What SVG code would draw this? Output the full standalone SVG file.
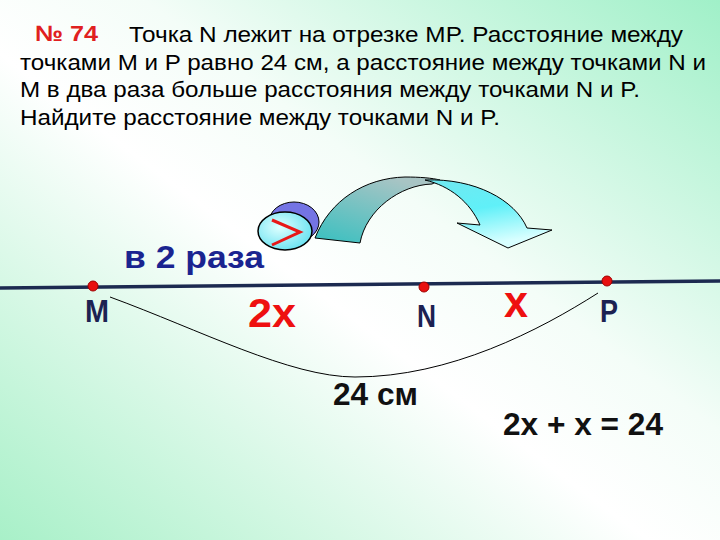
<svg xmlns="http://www.w3.org/2000/svg" width="720" height="540" viewBox="0 0 720 540">
<defs>
<linearGradient id="bg" x1="0" y1="1" x2="1" y2="0">
<stop offset="0" stop-color="#a8f0c8"/>
<stop offset="0.45" stop-color="#ffffff"/>
<stop offset="0.6" stop-color="#f4fdf8"/>
<stop offset="1" stop-color="#a0f0c8"/>
</linearGradient>
<linearGradient id="back" x1="0" y1="1" x2="0.6" y2="0">
<stop offset="0" stop-color="#38c0c0"/>
<stop offset="1" stop-color="#a8c4c4"/>
</linearGradient>
<linearGradient id="front" x1="0" y1="0" x2="0.3" y2="1">
<stop offset="0" stop-color="#70e8f0"/>
<stop offset="0.5" stop-color="#60f0f8"/>
<stop offset="1" stop-color="#d8ffff"/>
</linearGradient>
<radialGradient id="circ" cx="0.4" cy="0.4" r="0.7">
<stop offset="0" stop-color="#e0ffff"/>
<stop offset="1" stop-color="#60e0f0"/>
</radialGradient>
<style>
.t{font-family:"Liberation Sans",Arial,sans-serif;font-size:22px;fill:#000}
.lbl{font-family:"Liberation Sans",Arial,sans-serif;font-weight:bold;font-size:31px;fill:#1c2252}
.red{font-family:"Liberation Sans",Arial,sans-serif;font-weight:bold;fill:#ee1010}
.blk{font-family:"Liberation Sans",Arial,sans-serif;font-weight:bold;font-size:31px;fill:#111}
.dot{fill:#e81010;stroke:#a00000;stroke-width:1}
</style>
</defs>
<rect width="720" height="540" fill="url(#bg)"/>
<text x="35" y="41" class="red" textLength="63" lengthAdjust="spacingAndGlyphs" style="font-size:22px;fill:#e02020">№ 74</text>
<text x="129" y="42" class="t" textLength="554" lengthAdjust="spacingAndGlyphs">Точка N лежит на отрезке MP. Расстояние между</text>
<text x="20" y="70" class="t" textLength="686" lengthAdjust="spacingAndGlyphs">точками M и P равно 24 см, а расстояние между точками N и</text>
<text x="20" y="97" class="t" textLength="620" lengthAdjust="spacingAndGlyphs">M в два раза больше расстояния между точками N и P.</text>
<text x="20" y="125" class="t" textLength="480" lengthAdjust="spacingAndGlyphs">Найдите расстояние между точками N и P.</text>
<g id="arrow">
<path d="M315,238 C330,200 365,178 405,177 C420,177 432,178 440,180 L432,184 C400,185 366,210 360,243 Z" fill="url(#back)" stroke="#000" stroke-width="1"/>
<path d="M425,180 C475,178 515,200 527,228 L552,230 L508,248 L457,223 L480,225 C470,202 450,186 425,180 Z" fill="url(#front)" stroke="#000" stroke-width="1"/>
</g>
<g id="compare">
<ellipse cx="294" cy="222" rx="25" ry="20" fill="#7474e4" stroke="#000" stroke-width="1"/>
<ellipse cx="285" cy="231" rx="27" ry="19" fill="url(#circ)" stroke="#000" stroke-width="1.5"/>
<path d="M272,220 L300,232 L272,245" fill="none" stroke="#e81818" stroke-width="3"/>
</g>
<text x="124" y="268" textLength="140" lengthAdjust="spacingAndGlyphs" style="font-family:'Liberation Sans',Arial,sans-serif;font-weight:bold;font-size:32px;fill:#1a2490">в 2 раза</text>
<g id="connectors">
<path d="M0,288 L720,281" stroke="#1c2a50" stroke-width="3.5" fill="none"/>
<path d="M110,297 C200,330 290,377 355,377 C450,377 540,330 598,293" fill="none" stroke="#000" stroke-width="1"/>
</g>
<g id="M"><circle cx="93" cy="286" r="5" class="dot"/><text x="85" y="322" class="lbl" textLength="24" lengthAdjust="spacingAndGlyphs">M</text></g>
<g id="N"><circle cx="424" cy="287" r="5" class="dot"/><text x="417" y="327" class="lbl" textLength="19" lengthAdjust="spacingAndGlyphs">N</text></g>
<g id="P"><circle cx="607" cy="281" r="5" class="dot"/><text x="600" y="322" class="lbl" textLength="18" lengthAdjust="spacingAndGlyphs">P</text></g>
<text x="248" y="327" class="red" textLength="48" lengthAdjust="spacingAndGlyphs" style="font-size:40px">2x</text>
<text x="504" y="317" class="red" textLength="24" lengthAdjust="spacingAndGlyphs" style="font-size:44px">x</text>
<text x="333" y="405" class="blk" textLength="85" lengthAdjust="spacingAndGlyphs">24 см</text>
<text x="503" y="435" class="blk" textLength="160" lengthAdjust="spacingAndGlyphs">2x + x = 24</text>
</svg>
